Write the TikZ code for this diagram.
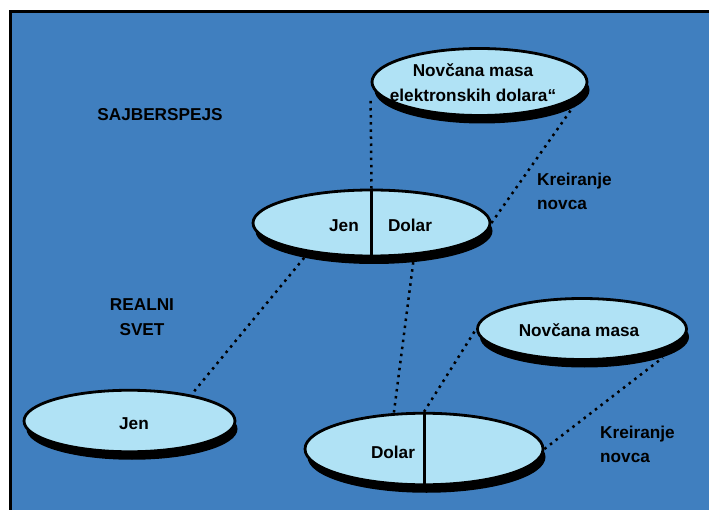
\documentclass[tikz,border=0pt]{standalone}
\usepackage{fontspec}
\setmainfont{Liberation Sans}
\usetikzlibrary{shapes.geometric,shadows,calc}

\definecolor{panelblue}{RGB}{64,127,191}
\definecolor{ovalfill}{RGB}{176,226,245}

\pgfdeclarelayer{panel}
\pgfdeclarelayer{links}
\pgfsetlayers{panel,links,main}

\tikzset{
  oval/.style={ellipse, draw=black, line width=2.8pt, fill=ovalfill, inner sep=0pt,
    drop shadow={shadow xshift=2.5pt, shadow yshift=-8pt, fill=black, opacity=1}},
  lbl/.style={font=\fontsize{17.2}{24.5}\selectfont\bfseries, inner sep=0pt, text=black},
  dotline/.style={line width=2.5pt, dash pattern=on 2.5pt off 4.6pt},
  divider/.style={line width=3pt},
}

\begin{document}
\begin{tikzpicture}[x=1pt,y=-1pt]
  \useasboundingbox (0,0) rectangle (709,510);

  % page and framed panel
  \begin{pgfonlayer}{panel}
    \fill[white] (0,0) rectangle (709,510);
    \fill[panelblue] (11,12) rectangle (709,510);
    \draw[line width=3pt] (10.7,510) -- (10.7,11.7) -- (709,11.7);
  \end{pgfonlayer}

  % ovals
  \path
    (479.5,82)  node[oval, minimum width=215pt, minimum height=67pt] (eltop) {}
    (371.5,223) node[oval, minimum width=237pt, minimum height=66pt] (mid) {}
    (129.5,421) node[oval, minimum width=211pt, minimum height=61.5pt] (jen) {}
    (424,449)   node[oval, minimum width=238pt, minimum height=71.5pt] (bot) {}
    (582,329)   node[oval, minimum width=209pt, minimum height=61pt] (nov) {};

  % split lines inside the two currency ovals
  \draw[divider] (mid.north) -- (mid.south);
  \draw[divider] (bot.north) -- (bot.south);

  % dotted connectors, kept under the ovals
  \begin{pgfonlayer}{links}
    \draw[dotline] (mid.north) -- ($(eltop.west)+(0,16)$);
    \draw[dotline] (mid.east) -- (eltop.-6);
    \draw[dotline] (mid.205) -- (jen.23);
    \draw[dotline] (mid.-37) -- (bot.130);
    \draw[dotline] (bot.north) -- (nov.west);
    \draw[dotline] (bot.east) -- ($(nov.south east)+(6,6)$);
  \end{pgfonlayer}

  % texts (multi-line labels are placed by the baseline of their last line)
  \node[lbl, anchor=base, align=center] (t1) at (473,101.5) {Novčana masa\\elektronskih dolara“};
  \node[lbl, anchor=base] (t2) at (344,231.5) {Jen};
  \node[lbl, anchor=base] (t3) at (410,231.5) {Dolar};
  \node[lbl, anchor=base] (t4) at (134,429) {Jen};
  \node[lbl, anchor=base] (t5) at (393,458) {Dolar};
  \node[lbl, anchor=base] (t6) at (579,336.7) {Novčana masa};
  \node[lbl, anchor=base] (t7) at (160,121) {SAJBERSPEJS};
  \node[lbl, anchor=base, align=center] (t8) at (142,335) {REALNI\\SVET};
  \node[lbl, anchor=base west, align=left] (t9) at (537,210) {Kreiranje\\novca};
  \node[lbl, anchor=base west, align=left] (t10) at (600,462.5) {Kreiranje\\novca};
\end{tikzpicture}
\end{document}
